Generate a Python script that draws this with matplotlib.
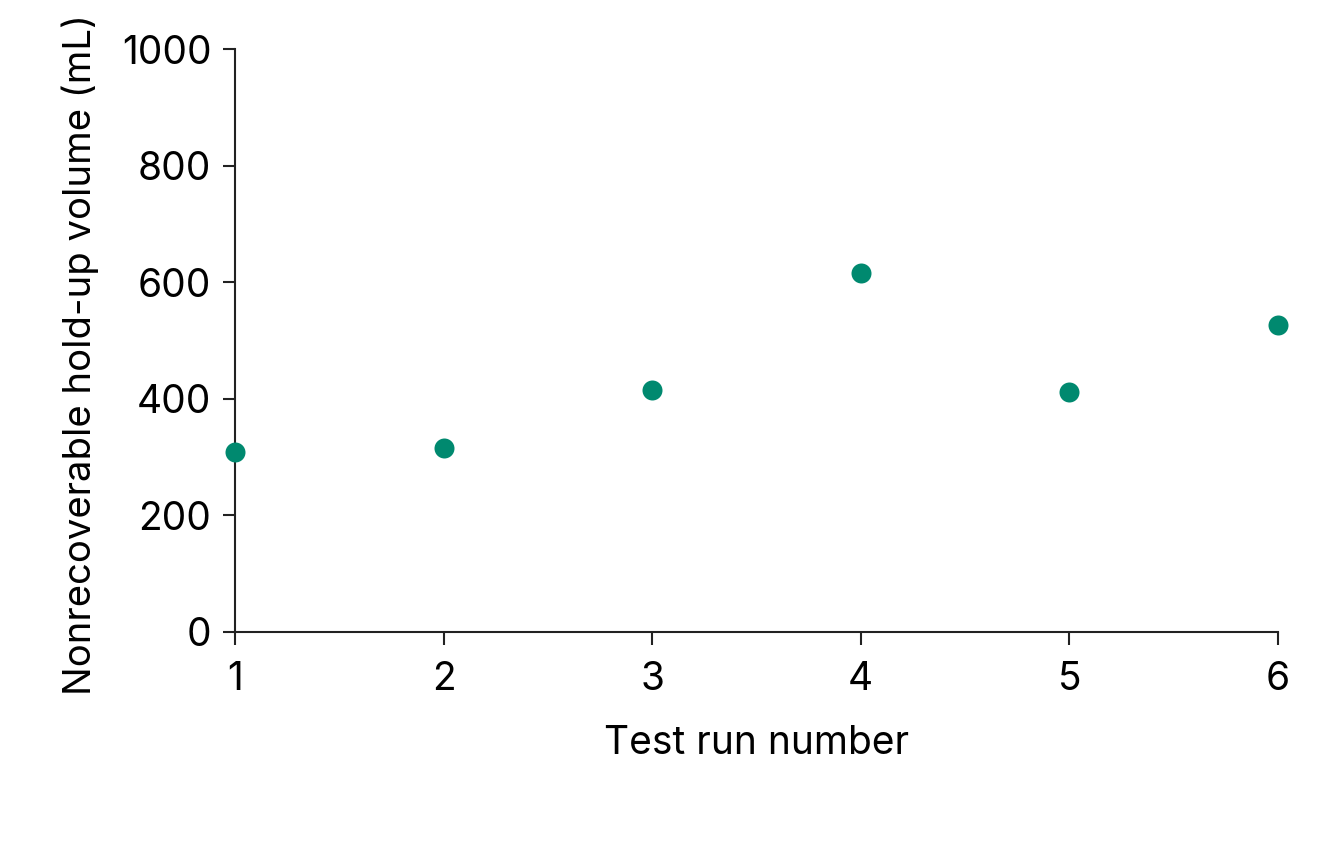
import matplotlib
matplotlib.use("Agg")
import matplotlib.pyplot as plt

runs = [1, 2, 3, 4, 5, 6]
holdup_ml = [309, 316, 415, 616, 412, 527]
y_ticks = [0, 200, 400, 600, 800, 1000]

plt.rcParams['font.family'] = ['Inter', 'DejaVu Sans']

fig = plt.figure(figsize=(13.42, 8.42), dpi=100)
ax = fig.add_axes([235/1342, 1 - 632/842, (1278-235)/1342, (632-49)/842])

ax.scatter(runs, holdup_ml, s=20**2 * 0.5184, color='#00896F', clip_on=False, zorder=3, linewidths=0)

ax.set_xlim(1, 6)
ax.set_ylim(0, 1000)
ax.set_xticks(runs)
ax.set_yticks(y_ticks)
for s in ['top', 'right']:
    ax.spines[s].set_visible(False)
for s in ['left', 'bottom']:
    ax.spines[s].set_linewidth(1.5)
    ax.spines[s].set_color('#222222')
ax.tick_params(axis='both', length=9, width=1.5, color='#222222', labelsize=28)
ax.tick_params(axis='x', pad=12)
ax.tick_params(axis='y', pad=8)
ax.set_xlabel('Test run number', fontsize=28, labelpad=19)
ax.set_ylabel('Nonrecoverable hold-up volume (mL)', fontsize=27.5, va='center')
ax.yaxis.set_label_coords(-0.1486, 0.476)

fig.savefig('out.png', dpi=100)
